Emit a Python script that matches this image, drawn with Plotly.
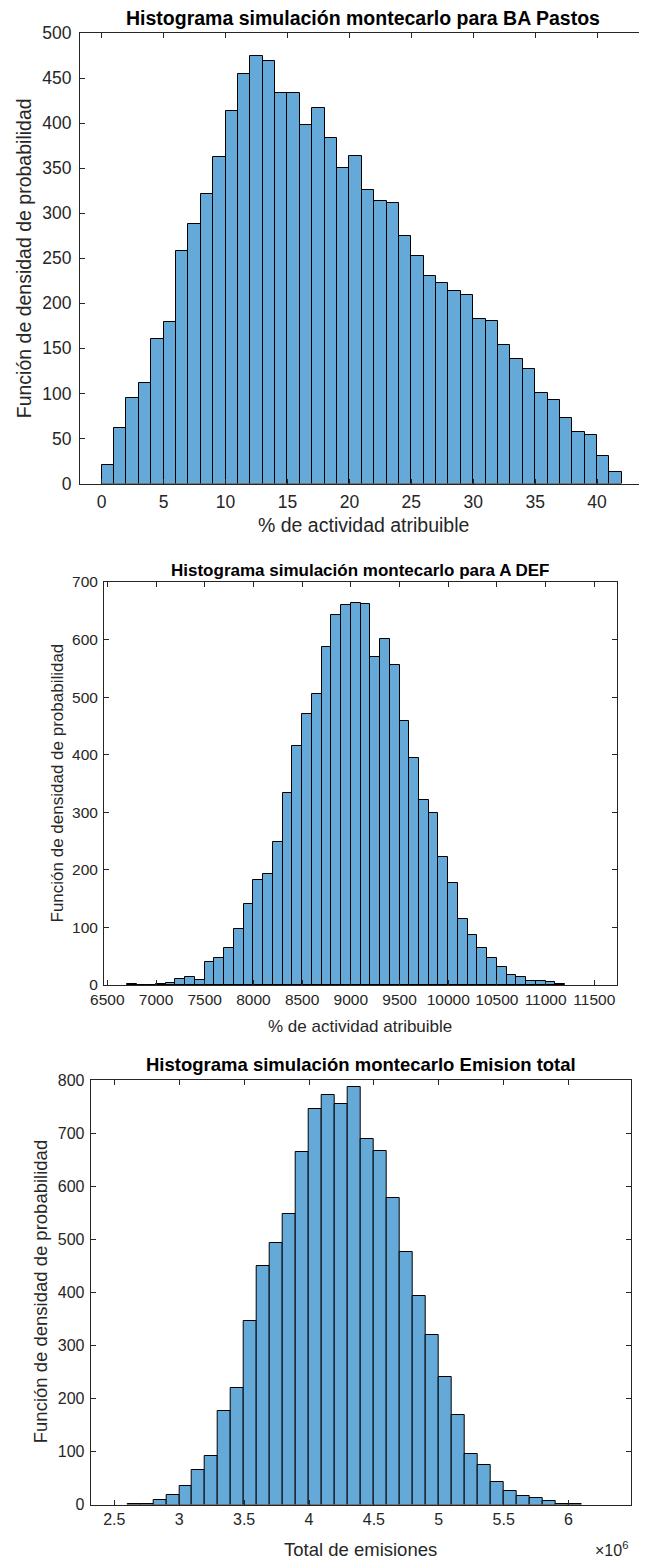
import numpy as np
import plotly.graph_objects as go

# the page body adds an 8px margin, so the figure is drawn 8px smaller
# and every pixel position below is measured on the full 647x1562 picture
W, H = 647, 1562
OFF = 8
FW, FH = W - OFF, H - OFF

# --- data ---
# BA Pastos: bins of width 1 from 0 to 42
pastos_start, pastos_width = 0, 1
pastos_counts = [21, 62, 95, 111, 160, 179, 258, 288, 321, 362, 413, 454, 474, 469,
                 433, 433, 398, 417, 383, 350, 363, 326, 313, 311, 275, 252, 230, 223,
                 214, 209, 183, 180, 154, 138, 127, 100, 93, 73, 57, 54, 31, 13]

# A DEF: bins of width 100 from 6700 to 11200
adef_start, adef_width = 6700, 100
adef_counts = [1, 0, 0, 1, 3, 11, 14, 8, 40, 47, 65, 97, 141, 183, 193, 248, 333, 415,
               471, 505, 587, 642, 660, 664, 662, 570, 601, 555, 459, 395, 322, 299,
               222, 177, 114, 86, 64, 47, 32, 17, 14, 7, 7, 5, 1]

# Emision total: bins of width 1e5 from 2.6e6 to 6.1e6
total_start, total_width = 2.6e6, 1e5
total_counts = [1, 1, 9, 18, 35, 65, 91, 177, 219, 346, 449, 492, 548, 664, 746,
                771, 754, 786, 688, 667, 577, 475, 393, 320, 241, 168, 96, 74, 42,
                25, 16, 12, 6, 1, 1]

total_ticks = [2.5e6, 3e6, 3.5e6, 4e6, 4.5e6, 5e6, 5.5e6, 6e6]
total_ticktext = ["2.5", "3", "3.5", "4", "4.5", "5", "5.5", "6"]

titles = ["Histograma simulación montecarlo para BA Pastos",
          "Histograma simulación montecarlo para A DEF",
          "Histograma simulación montecarlo Emision total"]
xlabels = ["% de actividad atribuible", "% de actividad atribuible", "Total de emisiones"]
ylabel = "Función de densidad de probabilidad"

BAR = "#64A9D7"
AX = "#262626"
FONT = "Liberation Sans, Arial, sans-serif"


def centers(start, width, counts):
    edges = start + width * np.arange(len(counts) + 1)
    return (edges[:-1] + edges[1:]) / 2


def px(x):
    return (x - OFF) / FW


def py(y):
    return 1 - (y - OFF) / FH


# pixel boxes of the three plot areas: left, right, top, bottom
boxes = [(80, 646, 33, 483.5),
         (104, 616.7, 582, 985),
         (90.7, 631, 1080, 1504.5)]

fig = go.Figure()

series = [(pastos_start, pastos_width, pastos_counts),
          (adef_start, adef_width, adef_counts),
          (total_start, total_width, total_counts)]

for i, (start, width, counts) in enumerate(series):
    n = "" if i == 0 else str(i + 1)
    fig.add_trace(go.Bar(
        x=centers(start, width, counts), y=counts, width=width,
        marker=dict(color=BAR, line=dict(color="black", width=1)),
        xaxis="x" + n, yaxis="y" + n, showlegend=False, hoverinfo="x+y"
    ))

tick_sizes = [17.5, 15.5, 16]
label_sizes = [19.5, 17, 18.5]
xranges = [[-1.75, 43.95], [6466, 11730], [2.318e6, 6.481e6]]
yranges = [[0, 500], [0, 700], [0, 800]]
ydticks = [50, 100, 100]
xstandoff = [2, 0, 0]
ystandoff = [4, 2, 2]

layout = dict(
    width=FW, height=FH, margin=dict(l=0, r=0, t=0, b=0),
    paper_bgcolor="white", plot_bgcolor="white",
    font=dict(family=FONT, color=AX), bargap=0,
)

annotations = []
for i, (l, r, t, b) in enumerate(boxes):
    n = "" if i == 0 else str(i + 1)
    xa = dict(domain=[px(l), px(r)], range=xranges[i], anchor="y" + n,
              showline=True, linecolor=AX, linewidth=1, mirror="ticks",
              ticks="inside", ticklen=5, tickcolor=AX, showgrid=False,
              zeroline=False, automargin=False,
              tickfont=dict(size=tick_sizes[i], color=AX),
              ticklabelstandoff=xstandoff[i])
    if i == 0:
        xa.update(dtick=5, tick0=0)
    elif i == 1:
        xa.update(dtick=500, tick0=6500, tickformat="d")
    else:
        xa.update(tickvals=total_ticks, ticktext=total_ticktext)
    ya = dict(domain=[py(b), py(t)], range=yranges[i], anchor="x" + n,
              showline=True, linecolor=AX, linewidth=1, mirror="ticks",
              ticks="inside", ticklen=5, tickcolor=AX, showgrid=False,
              zeroline=False, automargin=False, dtick=ydticks[i], tick0=0,
              tickfont=dict(size=tick_sizes[i], color=AX),
              ticklabelstandoff=ystandoff[i])
    layout["xaxis" + n] = xa
    layout["yaxis" + n] = ya

# titles and axis labels
title_y = [18, 570, 1064]
xlab_y = [525, 1026, 1549]
ylab_x = [24, 57, 40]
for i, (l, r, t, b) in enumerate(boxes):
    cx = (l + r) / 2
    annotations.append(dict(text="<b>" + titles[i] + "</b>", x=px(cx), y=py(title_y[i]),
                            xref="paper", yref="paper", showarrow=False,
                            xanchor="center", yanchor="middle",
                            font=dict(size=label_sizes[i], color="black")))
    annotations.append(dict(text=xlabels[i], x=px(cx), y=py(xlab_y[i]),
                            xref="paper", yref="paper", showarrow=False,
                            xanchor="center", yanchor="middle",
                            font=dict(size=label_sizes[i], color=AX)))
    annotations.append(dict(text=ylabel, x=px(ylab_x[i]), y=py((t + b) / 2),
                            xref="paper", yref="paper", showarrow=False, textangle=-90,
                            xanchor="center", yanchor="middle",
                            font=dict(size=label_sizes[i], color=AX)))

annotations.append(dict(text="×10<sup>6</sup>", x=px(630), y=py(1549),
                        xref="paper", yref="paper", showarrow=False,
                        xanchor="right", yanchor="middle",
                        font=dict(size=16, color=AX)))

layout["annotations"] = annotations
fig.update_layout(**layout)

fig.write_html("out.html")
